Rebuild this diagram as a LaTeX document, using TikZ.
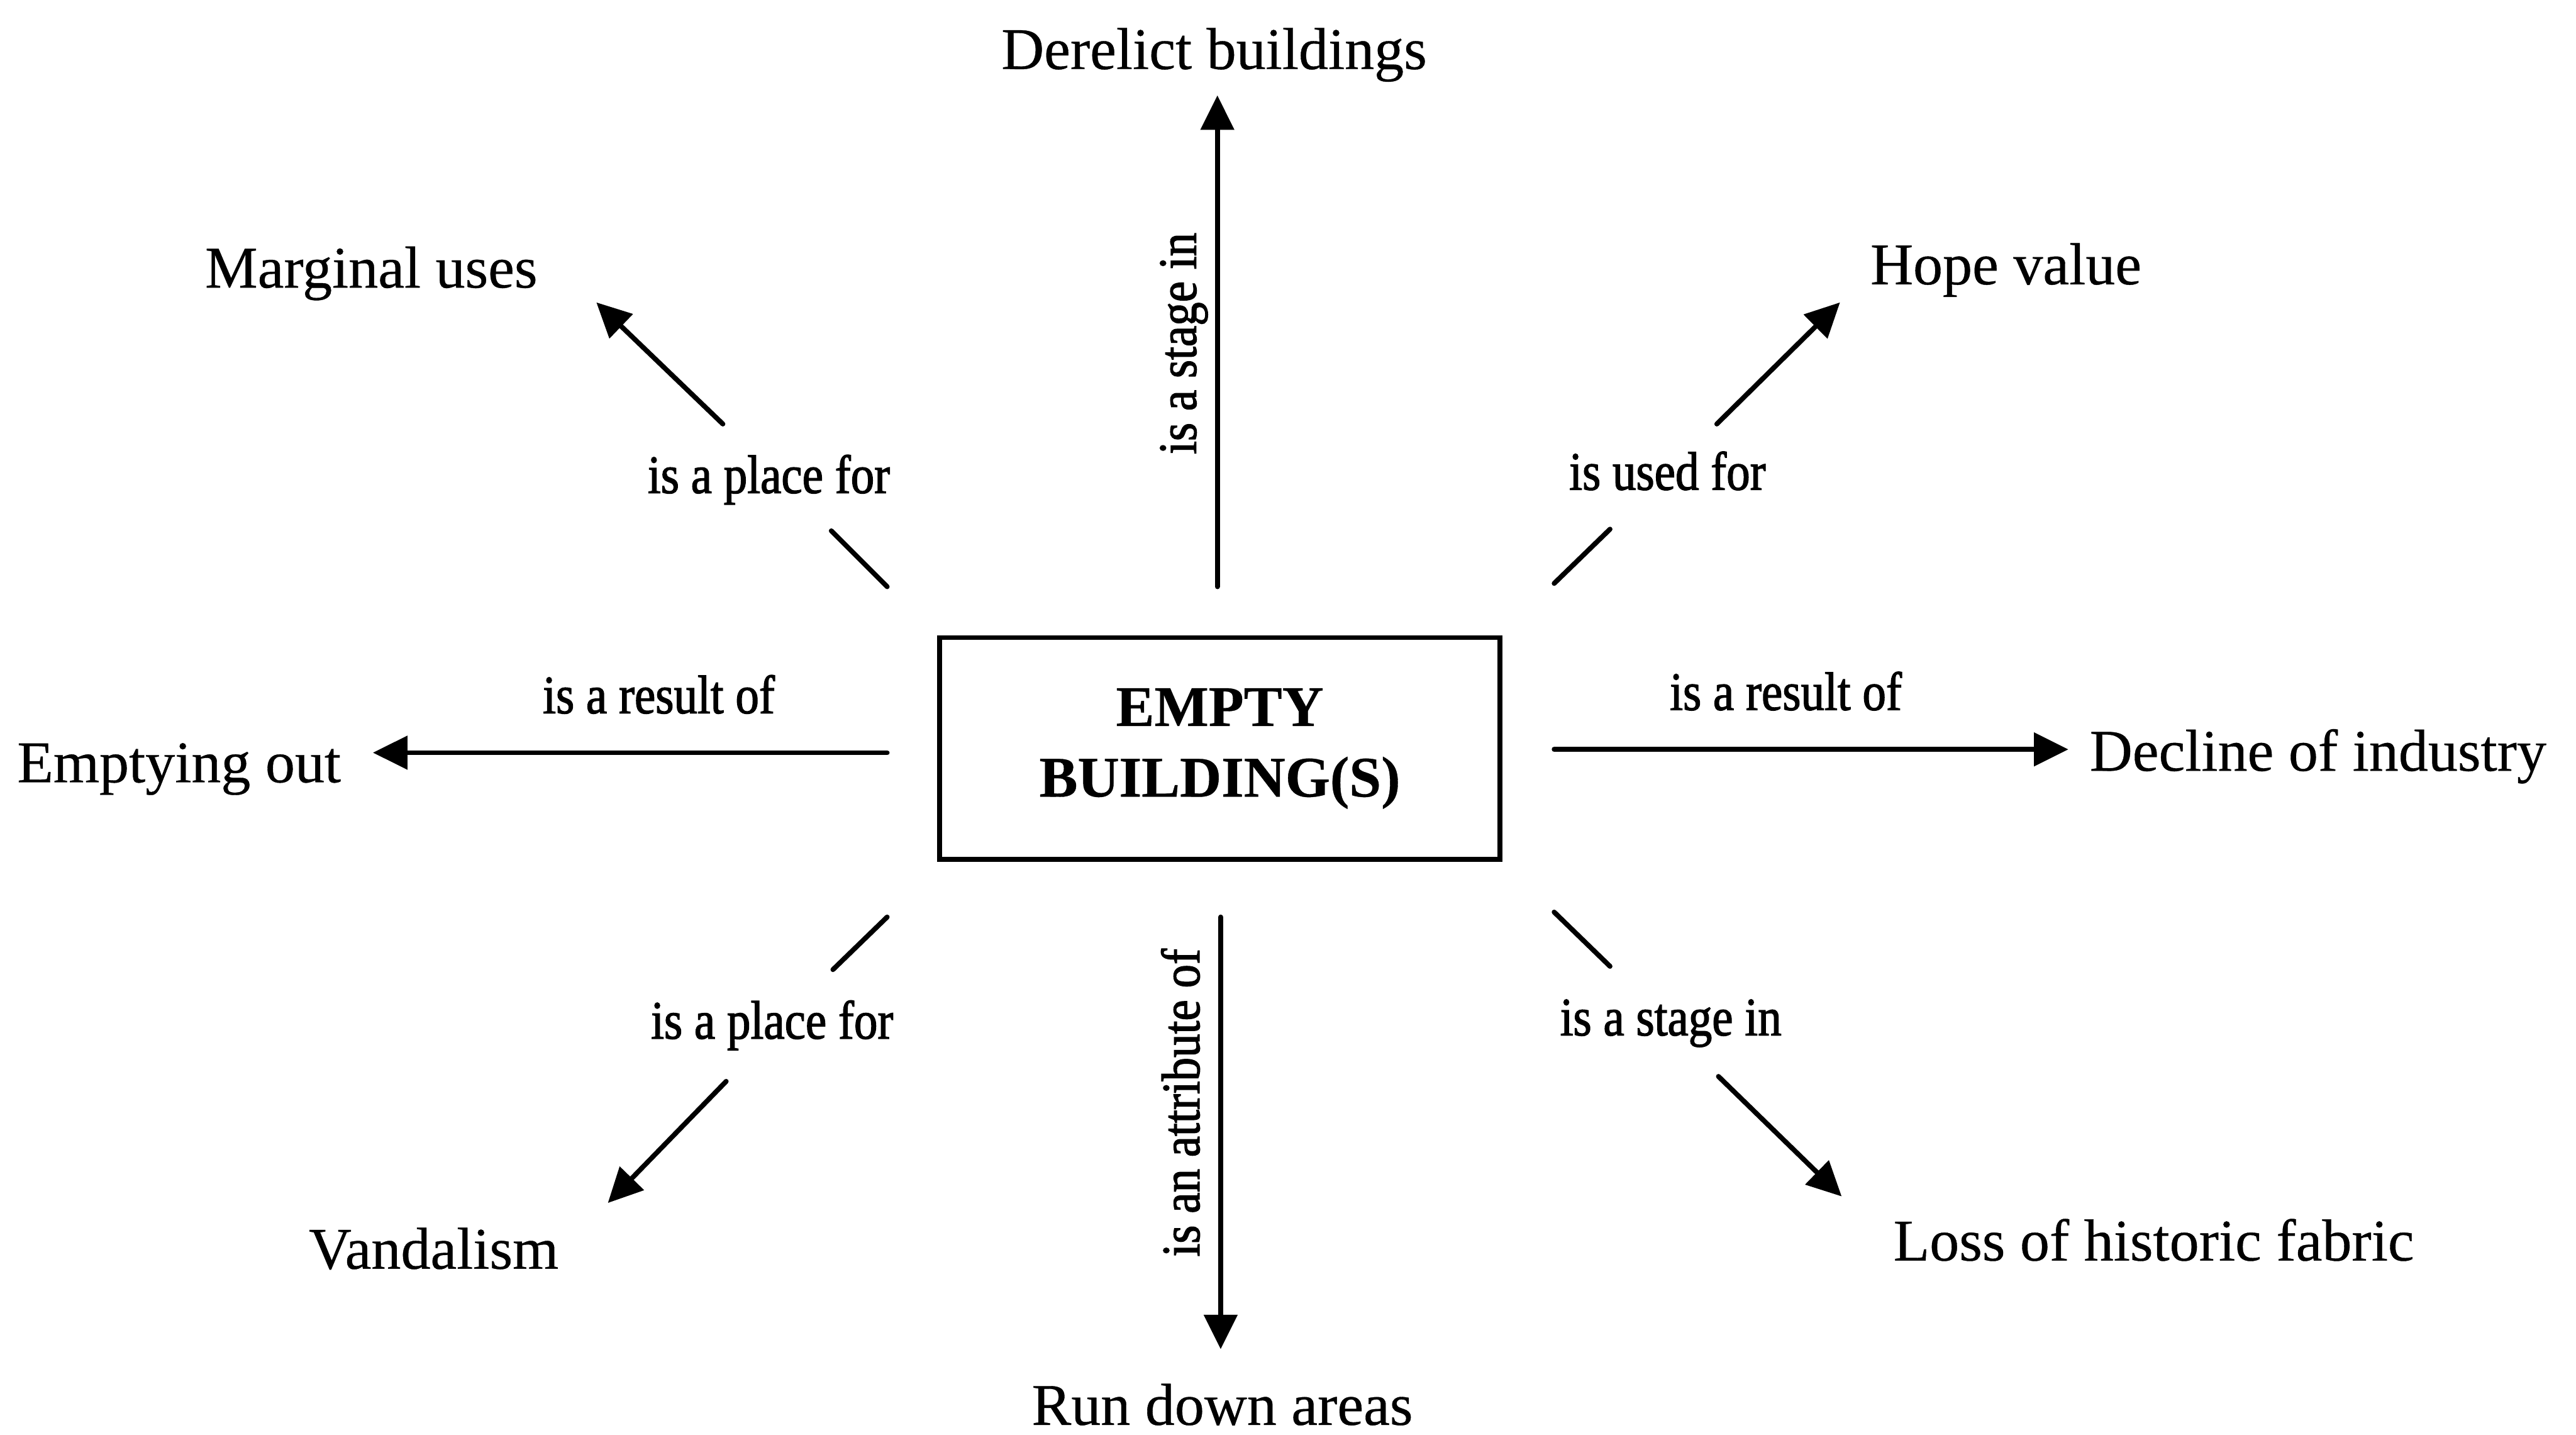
\documentclass[tikz,border=0pt]{standalone}
\usepackage{fontspec}
\setmainfont{Liberation Serif}[FakeBold=0.4]
\newfontfamily\lblfont[FakeStretch=0.87,FakeBold=1.6]{Liberation Serif}
\usetikzlibrary{arrows.meta}
\begin{document}
\begin{tikzpicture}[x=1pt,y=-1pt,
  concept/.style={anchor=base,inner sep=0pt,font=\fontsize{36}{40}\selectfont},
  rel/.style={anchor=base,inner sep=0pt,font=\lblfont\fontsize{33}{36}\selectfont},
  link/.style={line width=3pt,line cap=round},
  arr/.style={link,-{Triangle[length=21pt,width=20pt]}}]
\useasboundingbox (0,0) rectangle (1568,873);

% central concept
\node[draw,line width=3pt,minimum width=341pt,minimum height=135pt,inner sep=0pt,
      align=center,font=\bfseries\fontsize{35}{43}\selectfont] (eb) at (742.5,455.5)
      {EMPTY\\BUILDING(S)};

% surrounding concepts
\node[concept] (der) at (739,42)  {Derelict buildings};
\node[concept] (mar) at (226,175) {Marginal uses};
\node[concept] (hop) at (1221,173) {Hope value};
\node[concept] (emp) at (109,476) {Emptying out};
\node[concept] (dec) at (1411,469) {Decline of industry};
\node[concept] (van) at (264,772) {Vandalism};
\node[concept] (run) at (744,867) {Run down areas};
\node[concept] (los) at (1311,767) {Loss of historic fabric};

% connector end points
\coordinate (uS) at (741,357);  \coordinate (uT) at (741,58);
\coordinate (dS) at (743,558);  \coordinate (dT) at (743,821);
\coordinate (lS) at (540,458);  \coordinate (lT) at (227,458);
\coordinate (rS) at (946,456);  \coordinate (rT) at (1259,456);
\coordinate (ulA) at (540,357); \coordinate (ulB) at (506,323);
\coordinate (ulC) at (440,258); \coordinate (ulT) at (363,184);
\coordinate (urA) at (946,355); \coordinate (urB) at (980,322);
\coordinate (urC) at (1045,258);\coordinate (urT) at (1120,184);
\coordinate (dlA) at (540,558); \coordinate (dlB) at (507,590);
\coordinate (dlC) at (442,658); \coordinate (dlT) at (370,732);
\coordinate (drA) at (946,555); \coordinate (drB) at (980,588);
\coordinate (drC) at (1046,655);\coordinate (drT) at (1121,728);

% straight connectors
\draw[arr] (uS) -- (uT);
\draw[arr] (dS) -- (dT);
\draw[arr] (lS) -- (lT);
\draw[arr] (rS) -- (rT);

% diagonal connectors, broken around their labels
\draw[link] (ulA) -- (ulB); \draw[arr] (ulC) -- (ulT);
\draw[link] (urA) -- (urB); \draw[arr] (urC) -- (urT);
\draw[link] (dlA) -- (dlB); \draw[arr] (dlC) -- (dlT);
\draw[link] (drA) -- (drB); \draw[arr] (drC) -- (drT);

% relation labels
\node[rel,rotate=90] (l1) at (728,209) {is a stage in};
\node[rel,rotate=90] (l2) at (730,671) {is an attribute of};
\node[rel] (l3) at (401,434) {is a result of};
\node[rel] (l4) at (1087,432) {is a result of};
\node[rel] (l5) at (468,300) {is a place for};
\node[rel] (l6) at (1015,298) {is used for};
\node[rel] (l7) at (470,632) {is a place for};
\node[rel] (l8) at (1017,630) {is a stage in};
\end{tikzpicture}
\end{document}
